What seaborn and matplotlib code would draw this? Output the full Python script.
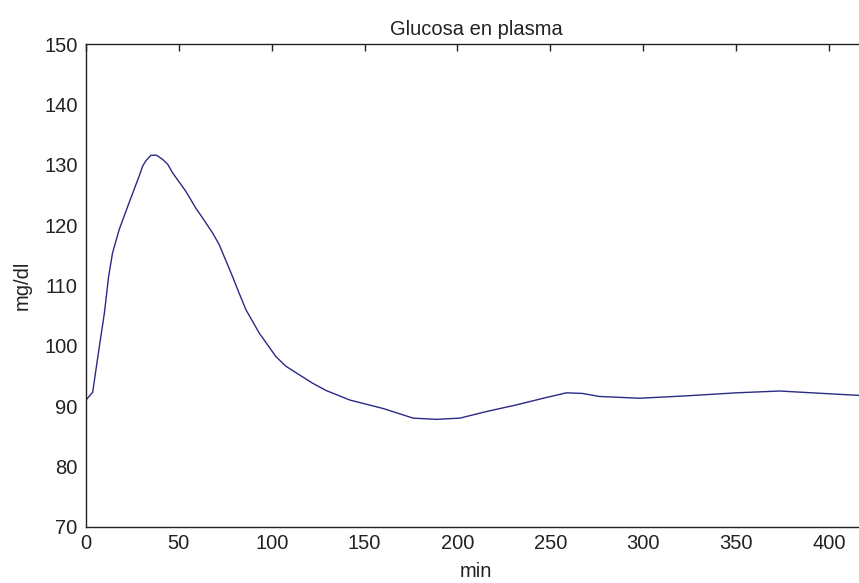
import matplotlib
matplotlib.use("Agg")
import matplotlib.pyplot as plt
import seaborn as sns
import pandas as pd

# Glucose curve
time_min = [0, 3.6, 7.2, 9.9, 12.2, 14.3, 17.9, 23.3, 28.7, 30.5, 32.3, 35,
            38, 41.3, 44, 46.6, 53.8, 59.2, 62.8, 68.2, 71.7, 78.9, 82.5,
            86.1, 93.3, 102.3, 107.7, 114.8, 122, 129.2, 142.1, 160, 176.2,
            188.8, 201.3, 215.7, 231.8, 246.2, 258.7, 267.3, 276.3, 298.2,
            323.3, 350.2, 373.5, 396.8, 414.8, 420]
glucose = [91.0, 92.3, 99.9, 105.4, 111.5, 115.4, 119.3, 123.8, 128.2, 129.8,
           130.7, 131.6, 131.6, 130.9, 130.1, 128.7, 125.6, 122.8, 121.2,
           118.7, 116.8, 111.5, 108.7, 106.0, 102.1, 98.2, 96.6, 95.2, 93.8,
           92.6, 91.0, 89.6, 88.0, 87.8, 88.0, 89.1, 90.2, 91.3, 92.2, 92.1,
           91.6, 91.3, 91.7, 92.2, 92.5, 92.1, 91.8, 91.7]

x_ticks = list(range(0, 401, 50))
y_ticks = list(range(70, 151, 10))

sns.set_theme(style="white")
plt.rcParams['font.family'] = ['Liberation Sans', 'DejaVu Sans']

df = pd.DataFrame({'min': time_min, 'mg/dl': glucose})

fig = plt.figure(figsize=(8.59, 5.83), dpi=100)
ax = fig.add_axes([0.1001, 0.0966, 0.908, 0.8274])

sns.lineplot(data=df, x='min', y='mg/dl', ax=ax, color='#2a2a85',
             linewidth=1.0, sort=False)

ax.set_xlim(0, 420)
ax.set_ylim(70, 150)
ax.set_xticks(x_ticks)
ax.set_yticks(y_ticks)

for sp in ax.spines.values():
    sp.set_visible(True)
    sp.set_color('#222222')
    sp.set_linewidth(1.0)

ax.tick_params(direction='in', length=5, width=1, color='#222222',
               top=True, right=True, labelsize=14.5, labelcolor='#222222')
ax.tick_params(axis='x', pad=5)
ax.tick_params(axis='y', pad=6)

ax.set_title('Glucosa en plasma', fontsize=14.5, color='#222222', pad=7)
ax.set_xlabel('min', fontsize=14.5, color='#222222', labelpad=7)
ax.set_ylabel('mg/dl', fontsize=14.5, color='#222222', labelpad=9)

fig.savefig('out.png', dpi=100, facecolor='white')
